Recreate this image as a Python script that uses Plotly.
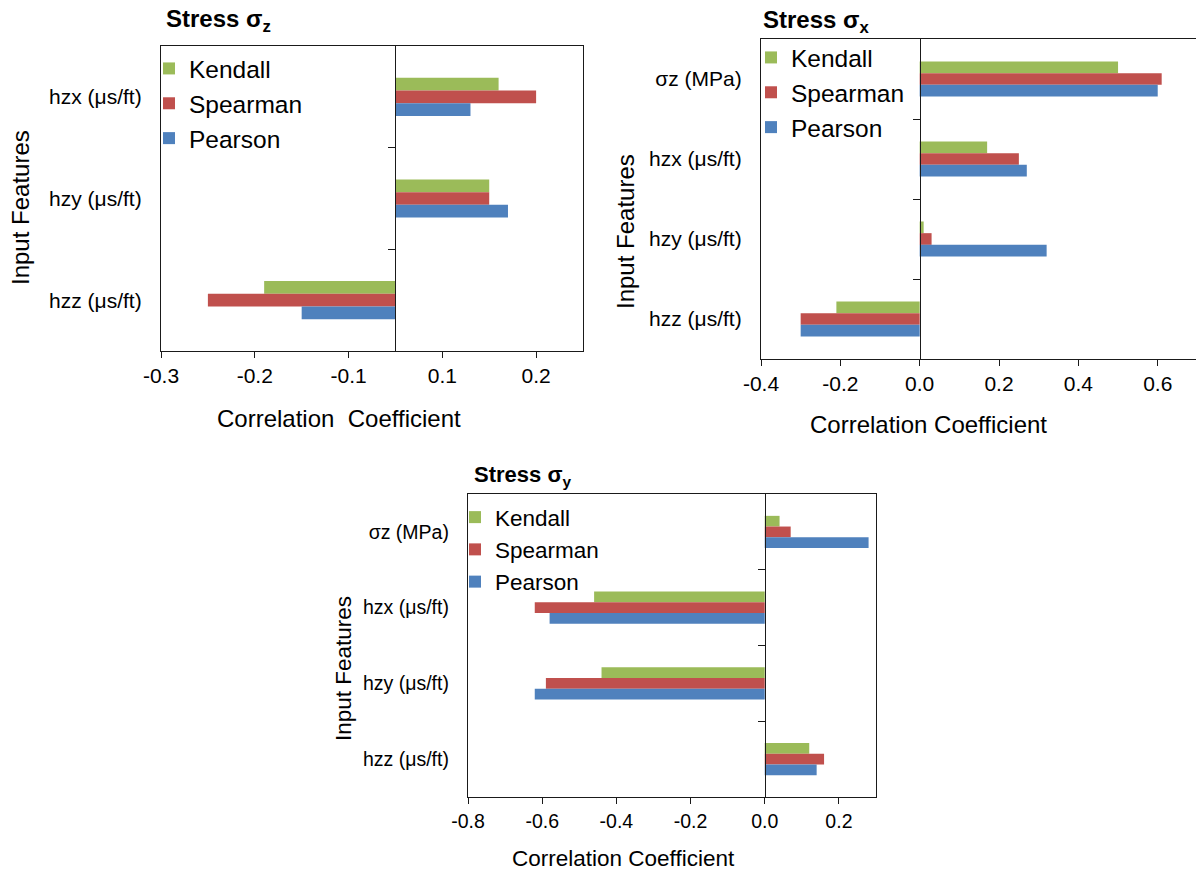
import plotly.graph_objects as go

W, H = 1196, 875
FONT = "Liberation Sans, Arial, sans-serif"

# ---------------- data ----------------
series_names = ["Kendall", "Spearman", "Pearson"]
series_colors = ["#9BBB59", "#C0504D", "#4F81BD"]

# Stress sigma_z
features_z = ["hzx (μs/ft)", "hzy (μs/ft)", "hzz (μs/ft)"]
kendall_z = [0.11, 0.10, -0.14]
spearman_z = [0.15, 0.10, -0.20]
pearson_z = [0.08, 0.12, -0.10]
xticks_z = [-0.25, -0.15, -0.05, 0.05, 0.15]
xlabels_z = ["-0.3", "-0.2", "-0.1", "0.1", "0.2"]

# Stress sigma_x
features_x = ["σz (MPa)", "hzx (μs/ft)", "hzy (μs/ft)", "hzz (μs/ft)"]
kendall_x = [0.50, 0.17, 0.01, -0.21]
spearman_x = [0.61, 0.25, 0.03, -0.30]
pearson_x = [0.60, 0.27, 0.32, -0.30]
xticks_x = [-0.4, -0.2, 0.0, 0.2, 0.4, 0.6]
xlabels_x = ["-0.4", "-0.2", "0.0", "0.2", "0.4", "0.6"]

# Stress sigma_y
features_y = ["σz (MPa)", "hzx (μs/ft)", "hzy (μs/ft)", "hzz (μs/ft)"]
kendall_y = [0.04, -0.46, -0.44, 0.12]
spearman_y = [0.07, -0.62, -0.59, 0.16]
pearson_y = [0.28, -0.58, -0.62, 0.14]
xticks_y = [-0.8, -0.6, -0.4, -0.2, 0.0, 0.2]
xlabels_y = ["-0.8", "-0.6", "-0.4", "-0.2", "0.0", "0.2"]

# ---------------- layout config ----------------
panels = [
    dict(title="<b>Stress σ<sub>z</sub></b>", feats=features_z,
         vals=[kendall_z, spearman_z, pearson_z], xr=[-0.25, 0.2],
         tv=xticks_z, tt=xlabels_z, box=(161, 46, 583, 351), bw=0.125,
         fs=21, fl=24.5, ft=24, fh=24, right=True,
         title_xy=(164, 20), xt_xy=(339, 418), yt_xy=(20, 208),
         leg_xy=(149, 46), xtitle="Correlation  Coefficient"),
    dict(title="<b>Stress σ<sub>x</sub></b>", feats=features_x,
         vals=[kendall_x, spearman_x, pearson_x], xr=[-0.4, 0.6965],
         tv=xticks_x, tt=xlabels_x, box=(761, 39, 1196, 359), bw=0.146,
         fs=21, fl=24.5, ft=24, fh=24, right=False,
         title_xy=(761, 22), xt_xy=(928, 424), yt_xy=(626, 232),
         leg_xy=(751, 35), xtitle="Correlation Coefficient"),
    dict(title="<b>Stress σ<sub>y</sub></b>", feats=features_y,
         vals=[kendall_y, spearman_y, pearson_y], xr=[-0.8, 0.3],
         tv=xticks_y, tt=xlabels_y, box=(468, 494, 876, 797), bw=0.141,
         fs=19.5, fl=22.5, ft=22.5, fh=22, right=True,
         title_xy=(472, 476), xt_xy=(623, 858), yt_xy=(343, 668),
         leg_xy=(455, 496), xtitle="Correlation Coefficient"),
]

fig = go.Figure()
layout = dict(
    width=W, height=H, margin=dict(l=0, r=0, t=0, b=0, autoexpand=False),
    paper_bgcolor="white", plot_bgcolor="white",
    font=dict(family=FONT, color="black"),
    barmode="overlay", showlegend=True, annotations=[],
)

LINE = "#1a1a1a"
for i, p in enumerate(panels):
    sfx = "" if i == 0 else str(i + 1)
    xa, ya = "x" + sfx, "y" + sfx
    ov = "y" + str(i + 4)
    leg = "legend" + sfx
    l, t, r, b = p["box"]
    n = len(p["feats"])
    w = p["bw"]
    for k, (name, col) in enumerate(zip(series_names, series_colors)):
        fig.add_trace(go.Bar(
            y=p["feats"], x=p["vals"][k], orientation="h", name=name,
            marker=dict(color=col, line=dict(width=0)),
            width=w, offset=(k - 1.5) * w,
            xaxis=xa, yaxis=ya, legend=leg, hoverinfo="x+y",
        ))
    # dummy trace to hold the zero-line tick axis
    fig.add_trace(go.Scatter(x=[0], y=[0.5], mode="markers",
                             marker=dict(opacity=0), showlegend=False,
                             hoverinfo="skip", xaxis=xa, yaxis=ov))
    xdom = [l / W, r / W]
    ydom = [1 - b / H, 1 - t / H]
    layout["xaxis" + sfx] = dict(
        domain=xdom, range=p["xr"], anchor=ya, tickvals=p["tv"], ticktext=p["tt"],
        ticks="outside", ticklen=6, tickwidth=1.3, tickcolor=LINE,
        showline=True, linecolor=LINE, linewidth=1.3, mirror=True,
        showgrid=False, zeroline=False, tickfont=dict(size=p["fs"], family=FONT),
        fixedrange=True, automargin=False,
    )
    layout["yaxis" + sfx] = dict(
        domain=ydom, anchor=xa, type="category", categoryorder="array",
        categoryarray=p["feats"], range=[n - 0.5, -0.5],
        showline=True, linecolor=LINE, linewidth=1.3, mirror=p["right"],
        ticks="", showgrid=False, zeroline=False,
        tickfont=dict(size=p["fs"], family=FONT), ticklabelstandoff=14,
        fixedrange=True, automargin=False,
    )
    zero_pos = xdom[0] + (0 - p["xr"][0]) / (p["xr"][1] - p["xr"][0]) * (xdom[1] - xdom[0])
    layout["yaxis" + str(i + 4)] = dict(
        overlaying=ya, anchor="free", position=zero_pos, side="left",
        type="linear", range=[n - 0.5, -0.5],
        tickvals=[j + 0.5 for j in range(n - 1)], showticklabels=False,
        ticks="outside", ticklen=7, tickwidth=1.3, tickcolor=LINE,
        showline=True, linecolor=LINE, linewidth=1.3,
        showgrid=False, zeroline=False, fixedrange=True, automargin=False,
    )
    lx, ly = p["leg_xy"]
    layout[leg] = dict(
        x=lx / W, y=1 - ly / H, xanchor="left", yanchor="top",
        bgcolor="rgba(0,0,0,0)", font=dict(size=p["fl"], family=FONT, color="black"),
        traceorder="normal", tracegroupgap=0,
    )
    tx, ty = p["title_xy"]
    layout["annotations"].append(dict(
        text=p["title"], x=tx / W, y=1 - ty / H, xref="paper", yref="paper",
        xanchor="left", yanchor="middle", showarrow=False,
        font=dict(size=p["fh"], family=FONT, color="black")))
    ax_, ay_ = p["xt_xy"]
    layout["annotations"].append(dict(
        text=p["xtitle"], x=ax_ / W, y=1 - ay_ / H, xref="paper", yref="paper",
        xanchor="center", yanchor="middle", showarrow=False,
        font=dict(size=p["ft"], family=FONT, color="black")))
    yx_, yy_ = p["yt_xy"]
    layout["annotations"].append(dict(
        text="Input Features", x=yx_ / W, y=1 - yy_ / H, xref="paper", yref="paper",
        xanchor="center", yanchor="middle", textangle=-90, showarrow=False,
        font=dict(size=p["ft"], family=FONT, color="black")))

fig.update_layout(**layout)
fig.write_html("out.html")
